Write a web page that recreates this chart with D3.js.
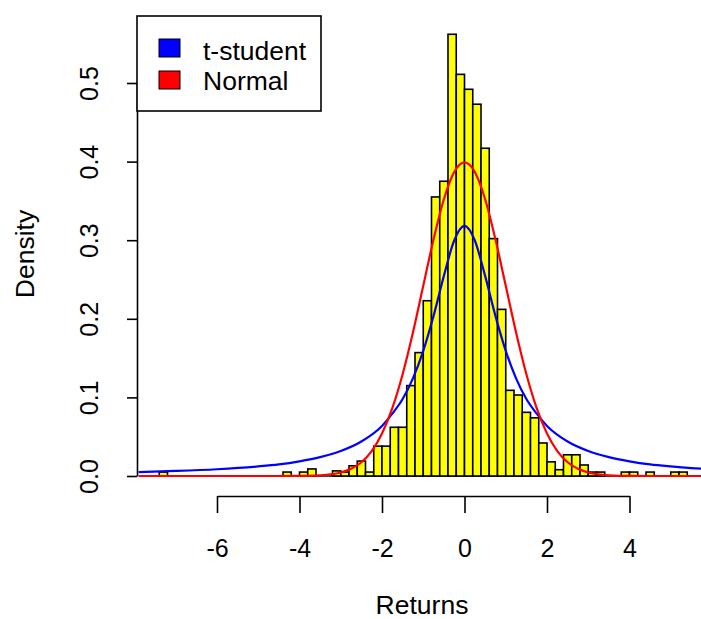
<!DOCTYPE html>
<html>
<head>
<meta charset="utf-8">
<script src="https://cdn.jsdelivr.net/npm/d3@7"></script>
<style>
  html, body { margin: 0; padding: 0; background: #ffffff; }
  svg { display: block; }
  text { font-family: "Liberation Sans", Arial, sans-serif; fill: #000; }
</style>
</head>
<body>
<div id="chart"></div>
<script>
// ---------- data ----------
// histogram: left edge of each non-empty bin (bin width 0.2) and its density
const binLeft = [-7.4, -4.4, -4.0, -3.8, -3.2, -3.0, -2.8, -2.6, -2.4, -2.2, -2.0, -1.8, -1.6, -1.4, -1.2, -1.0,
  -0.8, -0.6, -0.4, -0.2, 0.0, 0.2, 0.4, 0.6, 0.8, 1.0, 1.2, 1.4, 1.6, 1.8, 2.0, 2.2, 2.4, 2.6, 2.8, 3.0, 3.2,
  3.8, 4.0, 4.4, 5.0, 5.2];
const binDensity = [0.005, 0.005, 0.005, 0.009, 0.0065, 0.005, 0.013, 0.019, 0.005, 0.038, 0.038, 0.062, 0.062, 0.115, 0.157, 0.223,
  0.355, 0.375, 0.562, 0.511, 0.492, 0.473, 0.417, 0.302, 0.212, 0.109, 0.103, 0.081, 0.074, 0.042, 0.018, 0.008, 0.027, 0.027, 0.014, 0.005, 0.005,
  0.005, 0.005, 0.005, 0.005, 0.005];
const binWidth = 0.2;
const breakRange = [-7.4, 5.4];   // empty bins are drawn as a line on the baseline

// t-student (blue) curve points
const tX = [-7.9, -7, -6, -5, -4.5, -4, -3.5, -3, -2.5, -2, -1.75, -1.5, -1.25, -1, -0.75, -0.5, -0.25, 0,
  0.25, 0.5, 0.75, 1, 1.25, 1.5, 1.75, 2, 2.5, 3, 3.5, 4, 4.5, 5, 5.5, 5.9];
const tY = [0.0050, 0.0064, 0.0086, 0.0122, 0.0148, 0.0187, 0.0240, 0.0318, 0.0439, 0.0637, 0.0793, 0.0979, 0.1242, 0.1592, 0.2037, 0.2546, 0.2996, 0.3183,
  0.2996, 0.2546, 0.2037, 0.1592, 0.1242, 0.0979, 0.0793, 0.0637, 0.0439, 0.0318, 0.0240, 0.0187, 0.0148, 0.0122, 0.0101, 0.0089];

// Normal (red) curve points
const nX = [-7.9, -4.5, -4, -3.5, -3.25, -3, -2.75, -2.5, -2.25, -2, -1.75, -1.5, -1.25, -1, -0.75, -0.5, -0.25, 0,
  0.25, 0.5, 0.75, 1, 1.25, 1.5, 1.75, 2, 2.25, 2.5, 2.75, 3, 3.25, 3.5, 4, 4.5, 5.9];
const nY = [0, 0, 0.0001, 0.0009, 0.0020, 0.0044, 0.0091, 0.0175, 0.0317, 0.0540, 0.0863, 0.1295, 0.1826, 0.2420, 0.3011, 0.3521, 0.3867, 0.3989,
  0.3867, 0.3521, 0.3011, 0.2420, 0.1826, 0.1295, 0.0863, 0.0540, 0.0317, 0.0175, 0.0091, 0.0044, 0.0020, 0.0009, 0.0001, 0, 0];

const xTicks = [-6, -4, -2, 0, 2, 4];
const yTicks = [0.0, 0.1, 0.2, 0.3, 0.4, 0.5];
const legendLabels = ["t-student", "Normal"];
const legendColors = ["#0000ff", "#ff0000"];

// ---------- drawing ----------
const W = 701, H = 619;
const svg = d3.select("#chart").append("svg").attr("width", W).attr("height", H);

const x = d3.scaleLinear().domain([-6, 4]).range([217, 629.5]);
const y = d3.scaleLinear().domain([0, 0.5]).range([476, 83]);

// empty-bin baseline
svg.append("line")
  .attr("x1", x(breakRange[0])).attr("x2", x(breakRange[1]))
  .attr("y1", y(0)).attr("y2", y(0))
  .attr("stroke", "#000").attr("stroke-width", 1.5);

// bars
const bins = binLeft.map((l, i) => ({ l, d: binDensity[i] }));
svg.append("g").selectAll("rect").data(bins).join("rect")
  .attr("x", d => x(d.l))
  .attr("width", d => x(d.l + binWidth) - x(d.l))
  .attr("y", d => y(d.d))
  .attr("height", d => y(0) - y(d.d))
  .attr("fill", "#ffff00")
  .attr("stroke", "#000")
  .attr("stroke-width", 1.6);

// curves
const line = d3.line().x(d => x(d[0])).y(d => y(d[1])).curve(d3.curveMonotoneX);
svg.append("path").datum(tX.map((v, i) => [v, tY[i]]))
  .attr("d", line).attr("fill", "none").attr("stroke", "#0000ff").attr("stroke-width", 2.2);
svg.append("path").datum(nX.map((v, i) => [v, nY[i]]))
  .attr("d", line).attr("fill", "none").attr("stroke", "#ff0000").attr("stroke-width", 2.2);

// x axis
const gx = svg.append("g").attr("transform", "translate(0,496)")
  .call(d3.axisBottom(x).tickValues(xTicks).tickSize(17).tickSizeOuter(0).tickFormat(d3.format("d")));
gx.select(".domain").attr("stroke", "#000").attr("stroke-width", 1.6);
gx.selectAll(".tick line").attr("stroke", "#000").attr("stroke-width", 1.6);
gx.selectAll(".tick text").attr("y", 61).attr("dy", null)
  .style("font-size", "25px").style("font-family", "Liberation Sans, Arial, sans-serif")
  .text(d => d < 0 ? "-" + Math.abs(d) : d);

// y axis
const gy = svg.append("g").attr("transform", "translate(137,0)")
  .call(d3.axisLeft(y).tickValues(yTicks).tickSize(10).tickSizeOuter(0).tickFormat(d3.format(".1f")));
gy.select(".domain").attr("stroke", "#000").attr("stroke-width", 1.6);
gy.selectAll(".tick line").attr("stroke", "#000").attr("stroke-width", 1.6);
gy.selectAll(".tick text")
  .attr("x", null).attr("dy", null)
  .attr("transform", "translate(-39,0) rotate(-90)")
  .attr("text-anchor", "middle")
  .style("font-size", "25px").style("font-family", "Liberation Sans, Arial, sans-serif");

// axis titles
svg.append("text").attr("x", 422).attr("y", 614).attr("text-anchor", "middle")
  .style("font-size", "26.5px").text("Returns");
svg.append("text").attr("transform", "translate(34,254) rotate(-90)").attr("text-anchor", "middle")
  .style("font-size", "26.5px").text("Density");

// legend
const lg = svg.append("g");
lg.append("rect").attr("x", 137).attr("y", 16).attr("width", 184).attr("height", 95)
  .attr("fill", "#fff").attr("stroke", "#000").attr("stroke-width", 1.6);
legendLabels.forEach((lab, i) => {
  lg.append("rect").attr("x", 159).attr("y", 39 + i * 32).attr("width", 21).attr("height", 18)
    .attr("fill", legendColors[i]).attr("stroke", "#000").attr("stroke-width", 1);
  lg.append("text").attr("x", 203).attr("y", 60 + i * 29.5)
    .style("font-size", "26.5px").text(lab);
});
</script>
</body>
</html>
